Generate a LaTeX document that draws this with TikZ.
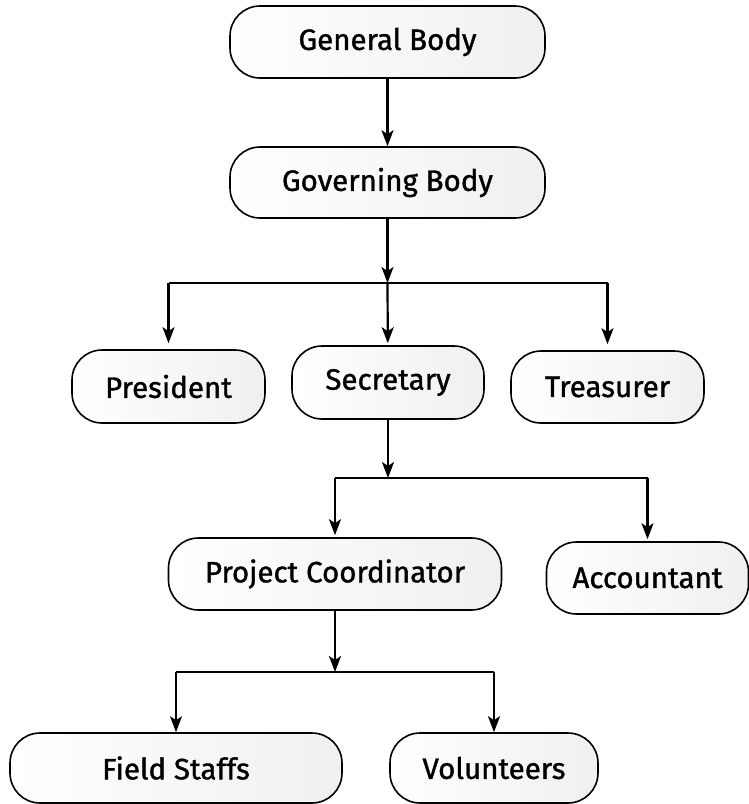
\documentclass[tikz,border=0pt]{standalone}
\usepackage{fontspec}
\setmainfont{Fira Sans}[FakeBold=1.2]
\usetikzlibrary{arrows.meta}
\begin{document}
\begin{tikzpicture}[x=1pt,y=-1pt,
  box/.style={draw=black, line width=1.6pt, rounded corners=30pt,
    left color=white, right color=gray!12, inner sep=0pt,
    font=\fontsize{29.5}{34}\selectfont, text=black},
  link/.style={line width=2.2pt, draw=black},
  arr/.style={link, -{Stealth[length=16pt,width=12pt,inset=4pt]}}]
\useasboundingbox (0,0) rectangle (749,804);
\node[box, minimum width=315pt, minimum height=72pt] (gen) at (387.5,42) {General Body};
\node[box, minimum width=315pt, minimum height=71pt] (gov) at (387.5,182.5) {Governing Body};
\node[box, minimum width=193pt, minimum height=73pt] (pres) at (168.5,386.5) {President};
\node[box, minimum width=192pt, minimum height=73pt] (sec) at (388,382.5) {Secretary};
\node[box, minimum width=193pt, minimum height=72pt] (tre) at (607.5,387) {Treasurer};
\node[box, minimum width=333pt, minimum height=72pt] (pc) at (335,574) {Project Coordinator};
\node[box, minimum width=202pt, minimum height=72pt] (acc) at (647.5,578) {Accountant};
\node[box, minimum width=332pt, minimum height=70pt] (fs) at (176,768) {Field Staffs};
\node[box, minimum width=208pt, minimum height=70pt] (vol) at (494,768) {Volunteers};
\coordinate (j1) at (387.5,283);
\coordinate (j2) at (388,478);
\coordinate (j3) at (335,672);
% general -> governing
\draw[arr] (gen) -- (gov);
% governing -> level 2
\draw[arr] (gov) -- (j1);
\draw[link] (j1 -| pres) -- (j1 -| tre);
\draw[arr, shorten >=6pt] (j1 -| pres) -- (pres);
\draw[arr, shorten >=2pt] (j1) -- (sec);
\draw[arr, shorten >=6pt] (j1 -| tre) -- (tre);
% secretary -> level 3
\draw[arr] (sec) -- (j2);
\draw[link] (j2 -| pc) -- (j2 -| acc);
\draw[arr, shorten >=2pt] (j2 -| pc) -- (pc);
\draw[arr, shorten >=2pt] (j2 -| acc) -- (acc);
% project coordinator -> level 4
\draw[arr] (pc) -- (j3);
\draw[link] (j3 -| fs) -- (j3 -| vol);
\draw[arr] (j3 -| fs) -- (fs);
\draw[arr] (j3 -| vol) -- (vol);
\end{tikzpicture}
\end{document}
